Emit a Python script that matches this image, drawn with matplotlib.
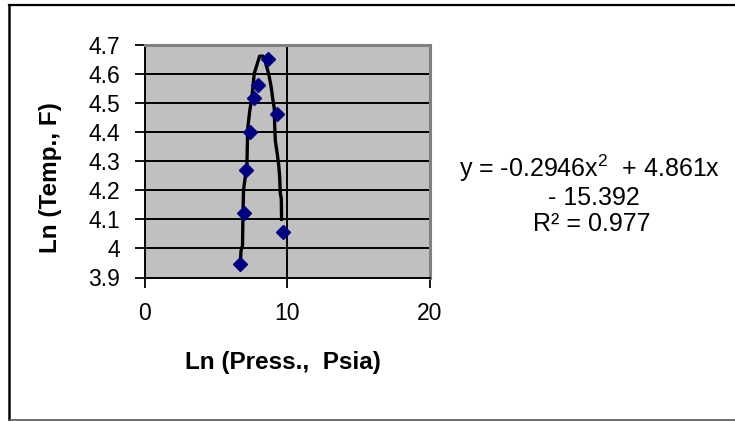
import matplotlib
matplotlib.use("Agg")
import matplotlib.pyplot as plt
from matplotlib.lines import Line2D

# ---- data ----
ln_press = [6.72, 7.00, 7.14, 7.42, 7.70, 7.94, 8.66, 9.30, 9.72]
ln_temp = [3.946, 4.123, 4.27, 4.40, 4.517, 4.56, 4.65, 4.46, 4.055]

curve_x = [6.72, 6.77, 6.88, 6.91, 6.95, 7.19, 7.24, 7.38, 7.54, 7.70, 7.89, 8.08,
           8.31, 8.48, 8.71, 8.87, 9.01, 9.11, 9.13, 9.18, 9.30, 9.41, 9.48, 9.53,
           9.60, 9.62]
curve_y = [3.94, 3.99, 4.01, 4.12, 4.20, 4.29, 4.41, 4.47, 4.52, 4.60, 4.63, 4.66,
           4.66, 4.64, 4.60, 4.56, 4.51, 4.48, 4.43, 4.37, 4.33, 4.29, 4.25, 4.19,
           4.17, 4.10]

x_ticks = [0, 10, 20]
y_ticks = [3.9, 4.0, 4.1, 4.2, 4.3, 4.4, 4.5, 4.6, 4.7]
y_tick_labels = ["3.9", "4", "4.1", "4.2", "4.3", "4.4", "4.5", "4.6", "4.7"]

eq_line1 = "y = -0.2946x$^{2}$  + 4.861x"
eq_line2 = "- 15.392"
eq_line3 = "R² = 0.977"
x_label = "Ln (Press.,  Psia)"
y_label = "Ln (Temp., F)"

# ---- figure ----
plt.rcParams["font.family"] = ["Liberation Sans", "DejaVu Sans"]
plt.rcParams["mathtext.fontset"] = "custom"
plt.rcParams["mathtext.rm"] = "Liberation Sans"
plt.rcParams["mathtext.it"] = "Liberation Sans"

W, H = 735, 421
fig = plt.figure(figsize=(W / 100, H / 100), dpi=100)
fig.patch.set_facecolor("white")

def fx(px):
    return px / W

def fy(py):
    return 1 - py / H

# outer chart border
fig.add_artist(Line2D([fx(9), fx(735)], [fy(5), fy(5)], color="black", lw=1.6))
fig.add_artist(Line2D([fx(9), fx(9)], [fy(5), fy(420)], color="black", lw=1.8))
fig.add_artist(Line2D([fx(9), fx(735)], [fy(420), fy(420)], color="#555555", lw=1.2))

left, right, top, bottom = 144.5, 429.5, 44.5, 277.5
ax = fig.add_axes([fx(left), fy(bottom), fx(right - left), (bottom - top) / H])
ax.set_facecolor("#c0c0c0")
ax.set_xlim(0, 20)
ax.set_ylim(3.9, 4.7)

ax.set_xticks(x_ticks)
ax.set_xticklabels([str(t) for t in x_ticks])
ax.set_yticks(y_ticks)
ax.set_yticklabels(y_tick_labels)
ax.tick_params(axis="both", direction="out", length=7, width=1.3, colors="black",
               labelsize=16.5)
ax.tick_params(axis="x", pad=10.5)
ax.tick_params(axis="y", pad=10.5)

for y in y_ticks[1:-1]:
    ax.axhline(y, color="black", lw=1.4, zorder=1)
ax.axvline(10, color="black", lw=1.4, zorder=1)

for s in ["left", "bottom"]:
    ax.spines[s].set_color("black")
    ax.spines[s].set_linewidth(1.4)
for s in ["top", "right"]:
    ax.spines[s].set_color("#808080")
    ax.spines[s].set_linewidth(2.2)

ax.plot(curve_x, curve_y, color="black", lw=2.4, zorder=3, solid_joinstyle="round")
ax.plot(ln_press, ln_temp, linestyle="none", marker="D", markersize=7,
        color="#000080", zorder=4)

fig.text(fx(283), fy(362), x_label, ha="center", va="center", fontsize=17.5,
         fontweight="bold")
fig.text(fx(50), fy(178), y_label, ha="center", va="center", fontsize=17.5,
         fontweight="bold", rotation=90)

fig.text(fx(590), fy(177), eq_line1, ha="center", va="baseline", fontsize=18)
fig.text(fx(594), fy(205), eq_line2, ha="center", va="baseline", fontsize=18)
fig.text(fx(592), fy(231), eq_line3, ha="center", va="baseline", fontsize=18)

fig.savefig("out.png", dpi=100)
